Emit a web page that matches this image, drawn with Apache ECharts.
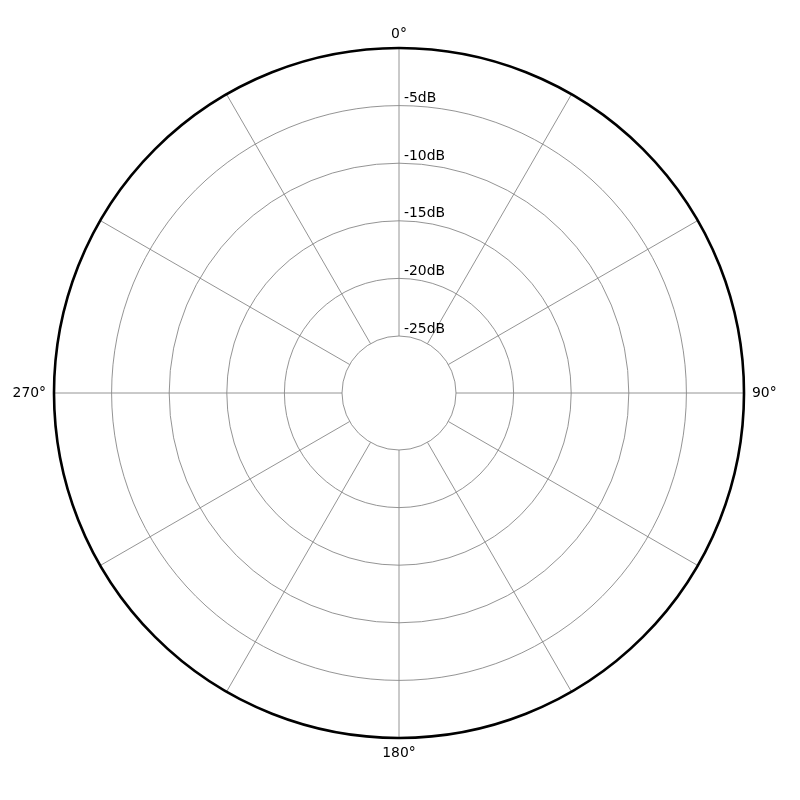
<!DOCTYPE html>
<html>
<head>
<meta charset="utf-8">
<script src="https://cdn.jsdelivr.net/npm/echarts@6/dist/echarts.min.js"></script>
<style>html,body{margin:0;padding:0;background:#fff}#c{width:800px;height:800px}</style>
</head>
<body>
<div id="c"></div>
<script>
const angleTicks = [0, 90, 180, 270];
const radiusTicks = [-25, -20, -15, -10, -5, 0];
const dbMin = -25, dbMax = 0, dbStep = 5;
const angleStep = 30;

const chart = echarts.init(document.getElementById('c'), null, {renderer: 'canvas'});
chart.setOption({
  animation: false,
  backgroundColor: '#ffffff',
  textStyle: {fontFamily: 'DejaVu Sans'},
  polar: [
    {center: [399, 393], radius: [57, 345]},
    {center: [399, 393], radius: [0, 345]}
  ],
  angleAxis: [{
    polarIndex: 0,
    type: 'value', min: 0, max: 360, interval: angleStep,
    startAngle: 90, clockwise: true,
    axisLine: {show: false},
    axisTick: {show: false},
    splitLine: {show: true, lineStyle: {color: '#888', width: 0.9}},
    axisLabel: {
      show: true, margin: 8, color: '#000', fontSize: 13.9, fontFamily: 'DejaVu Sans',
      formatter: v => (v === 0 ? '{t|0°}' : angleTicks.includes(v) ? v + '°' : ''),
      rich: {t: {fontSize: 13.9, fontFamily: 'DejaVu Sans', color: '#000', lineHeight: 12}}
    }
  }, {
    polarIndex: 1,
    type: 'value', min: 0, max: 360, interval: 90,
    startAngle: 90, clockwise: true,
    axisLine: {show: true, lineStyle: {color: '#000', width: 2.6}},
    axisTick: {show: false}, axisLabel: {show: false}, splitLine: {show: false}
  }],
  radiusAxis: [{
    polarIndex: 0,
    type: 'value', min: dbMin, max: dbMax, interval: dbStep,
    axisLine: {show: false}, axisTick: {show: false},
    splitLine: {show: true, lineStyle: {color: '#888', width: 0.9}},
    axisLabel: {
      show: true, color: '#000', fontSize: 13.9, fontFamily: 'DejaVu Sans',
      formatter: v => (radiusTicks.includes(v) && v !== 0 ? v + 'dB' : ''),
      rotate: 0, margin: -5, align: 'left', verticalAlign: 'bottom'
    }
  }, {
    polarIndex: 1,
    type: 'value', min: 0, max: 1, show: false
  }],
  series: [{type: 'line', coordinateSystem: 'polar', polarIndex: 0, data: [], symbol: 'none'}]
});
</script>
</body>
</html>
